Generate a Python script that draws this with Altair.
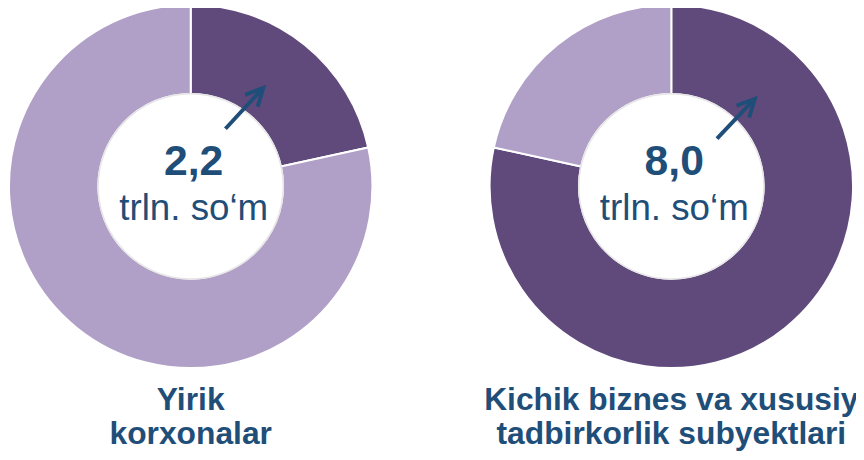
import math
import altair as alt
import pandas as pd

# ---- data ----
categories = ["Yirik korxonalar", "Kichik biznes va xususiy tadbirkorlik subyektlari"]
label_lines = ["Yirik\nkorxonalar", "Kichik biznes va xususiy\ntadbirkorlik subyektlari"]
values = [2.2, 8.0]
unit_text = "trln. so\u2018m"
parts = ["own", "other"]

total = sum(values)
rows = []
for i, cat in enumerate(categories):
    own = values[i]
    rows.append(dict(idx=i, panel=cat, part="own", f0=0.0, f1=own / total))
    rows.append(dict(idx=i, panel=cat, part="other", f0=own / total, f1=1.0))
df = pd.DataFrame(rows)

lbl = pd.DataFrame({
    "idx": list(range(len(categories))),
    "panel": categories,
    "label": label_lines,
    "vtext": [f"{v:.1f}".replace(".", ",") for v in values],
    "unit": [unit_text] * len(categories),
})

FONT = "Liberation Sans"
TXT = "#1F4E79"
DARK = "#5F4A7B"
LIGHT = "#B09FC6"
CY = 178

XSCALE = alt.Scale(domain=[0, 1], range=[184, 668])
X = alt.X("idx:Q", scale=XSCALE, axis=None, stack=False)

arcs = alt.Chart(df).mark_arc(radius=183, radius2=93, stroke="white", strokeWidth=2).encode(
    x=X,
    y=alt.value(CY),
    theta=alt.Theta("f0:Q", scale=alt.Scale(domain=[0, 1], range=[0, 2 * math.pi]), stack=False),
    theta2="f1:Q",
    color=alt.Color("part:N", scale=alt.Scale(domain=parts, range=[DARK, LIGHT]), legend=None),
)

rim = alt.Chart(lbl).mark_arc(radius=94, radius2=92.5, color="#e6e6e6", theta=0, theta2=2 * math.pi).encode(
    x=X, y=alt.value(CY)
)

ltxt = alt.Chart(lbl)
val_text = ltxt.mark_text(font=FONT, fontSize=43, fontWeight="bold", color=TXT,
                          align="center", baseline="alphabetic", dx=3).encode(
    x=X, y=alt.value(CY - 11), text="vtext:N")
unit_t = ltxt.mark_text(font=FONT, fontSize=37, color=TXT,
                        align="center", baseline="alphabetic", dx=3).encode(
    x=X, y=alt.value(CY + 34), text="unit:N")
labels = ltxt.mark_text(font=FONT, fontSize=32, fontWeight="bold", color=TXT,
                        align="center", baseline="alphabetic", lineBreak="\n", lineHeight=35).encode(
    x=X, y=alt.value(403), text="label:N")

chev = "M -0.45 0.9 L 0 0 L 0.45 0.9"


def arrow(i, x0, y0, x1, y1):
    c = ltxt.transform_filter(alt.datum.idx == i)
    shaft = c.mark_rule(color=TXT, strokeWidth=4, xOffset=x0, x2Offset=x1 - 2,
                        yOffset=y0, y2Offset=y1 + 2).encode(
        x=X, x2="idx:Q", y=alt.value(CY), y2=alt.value(CY))
    head = c.mark_point(shape=chev, filled=False, color=TXT, strokeWidth=4, size=1500,
                        angle=43, xOffset=x1, yOffset=y1, opacity=1).encode(
        x=X, y=alt.value(CY))
    return shaft + head


chart = alt.layer(
    arcs, rim, val_text, unit_t, labels,
    arrow(0, 35, -58, 73, -99),
    arrow(1, 46, -48, 84, -88),
).properties(
    width=854, height=450,
    autosize=alt.AutoSizeParams(type="none"),
    padding=0,
    background="white",
).configure_view(stroke=None)

chart.save("out.html", embed_options={"renderer": "svg", "actions": False})
